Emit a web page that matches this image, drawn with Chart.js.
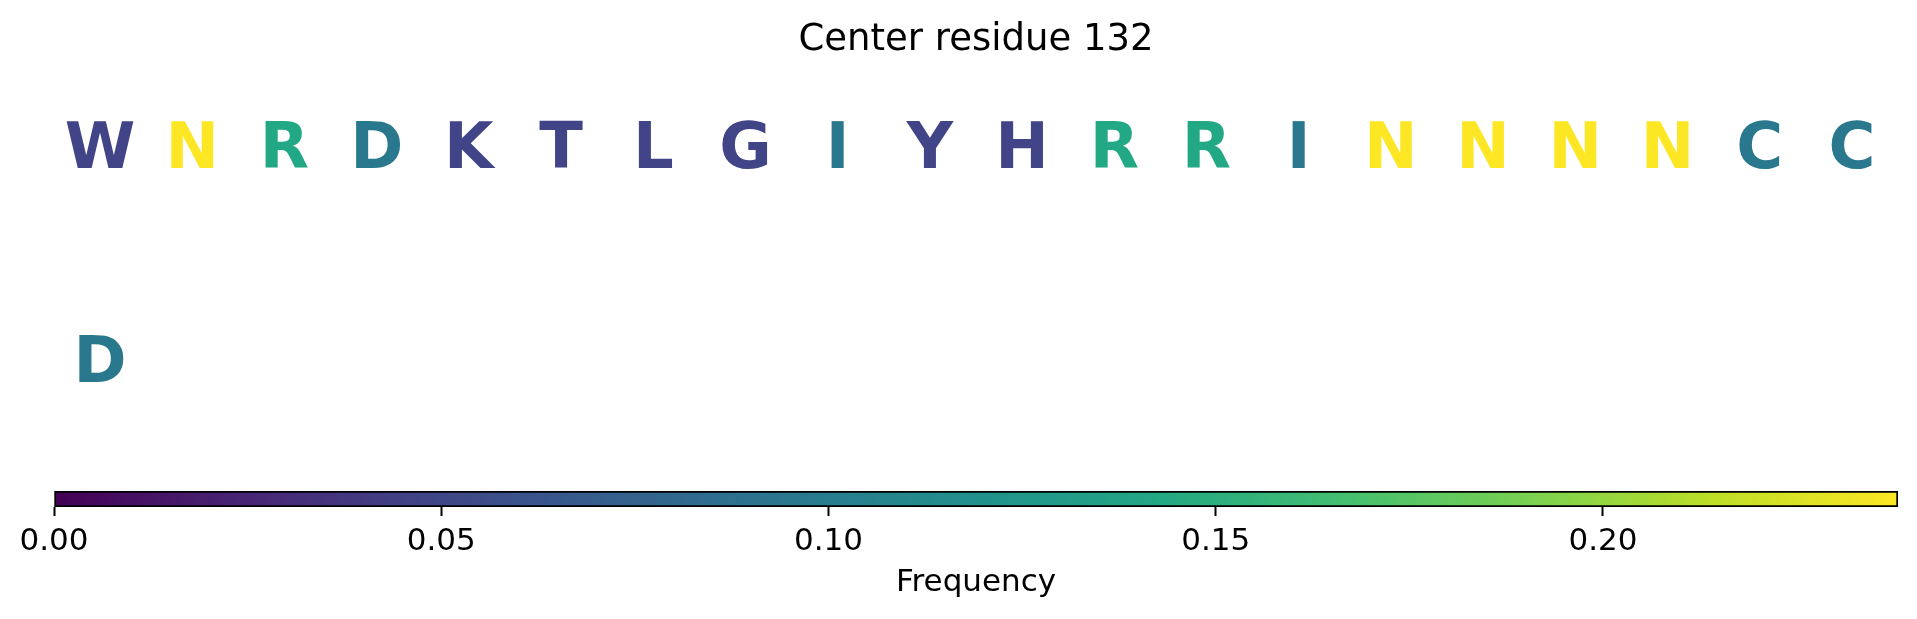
<!DOCTYPE html>
<html><head><meta charset="utf-8">
<script src="https://cdn.jsdelivr.net/npm/chart.js@4.4.1/dist/chart.umd.min.js"></script>
<style>
html,body{margin:0;padding:0;background:#fff;}
#wrap{position:relative;width:1917px;height:619px;overflow:hidden;}
#wrap canvas{position:absolute;left:0;top:0;}
</style></head><body>
<div id="wrap">
<canvas id="main" width="1917" height="619"></canvas>
<canvas id="cbar" width="1917" height="619"></canvas>
</div>
<script>
const titleText = 'Center residue 132';
const residues = ['W','N','R','D','K','T','L','G','I','Y','H','R','R','I','N','N','N','N','C','C','D'];
const frequencies = [0.0476,0.2381,0.1429,0.0952,0.0476,0.0476,0.0476,0.0476,0.0952,0.0476,0.0476,0.1429,0.1429,0.0952,0.2381,0.2381,0.2381,0.2381,0.0952,0.0952,0.0952];
const colorbarMin = 0;
const colorbarMax = 0.2381;
const colorbarTicks = [0, 0.05, 0.10, 0.15, 0.20];
const colorbarLabel = 'Frequency';
const perRow = 20;

const FONT = 'DejaVu Sans';
Chart.defaults.font.family = FONT;

const viridisStops = ['#440154','#482475','#414487','#355f8d','#2a788e','#21918c','#22a884','#44bf70','#7ad151','#bddf26','#fde725'];
function hexToRgb(h){return [parseInt(h.slice(1,3),16),parseInt(h.slice(3,5),16),parseInt(h.slice(5,7),16)];}
function viridis(t){
  t = Math.max(0, Math.min(1, t));
  const n = viridisStops.length - 1;
  const p = t * n, i = Math.min(Math.floor(p), n - 1), f = p - i;
  const a = hexToRgb(viridisStops[i]), b = hexToRgb(viridisStops[i+1]);
  const c = a.map((v,k)=>Math.round(v + (b[k]-v)*f));
  return `rgb(${c[0]},${c[1]},${c[2]})`;
}

const points = residues.map((r, i) => ({x: (i % perRow) + 0.5, y: Math.floor(i / perRow)}));

const letterPlugin = {
  id: 'letters',
  afterDatasetsDraw(chart) {
    const meta = chart.getDatasetMeta(0);
    const ctx = chart.ctx;
    ctx.save();
    ctx.font = `bold 64px "${FONT}"`;
    ctx.textAlign = 'center';
    ctx.textBaseline = 'middle';
    meta.data.forEach((pt, i) => {
      ctx.fillStyle = viridis((frequencies[i] - colorbarMin) / (colorbarMax - colorbarMin));
      ctx.fillText(residues[i], pt.x, pt.y);
    });
    ctx.restore();
  }
};

new Chart(document.getElementById('main'), {
  type: 'scatter',
  data: { datasets: [{ data: points, pointRadius: 0, pointHoverRadius: 0 }] },
  plugins: [letterPlugin],
  options: {
    responsive: false, animation: false, events: [],
    layout: { padding: { left: 54, right: 19, top: 0, bottom: 146.5 } },
    plugins: {
      legend: { display: false }, tooltip: { enabled: false },
      title: { display: true, text: titleText, color: '#000',
        font: { family: FONT, size: 37, weight: 'normal', lineHeight: 1.2 },
        padding: { top: 18.1, bottom: 24.8 } }
    },
    scales: {
      x: { type: 'linear', display: false, min: 0, max: perRow },
      y: { type: 'linear', display: false, min: -0.3, max: 1.5, reverse: true }
    }
  }
});

new Chart(document.getElementById('cbar'), {
  type: 'bar',
  data: { labels: ['cb'], datasets: [{
    data: [[colorbarMin, colorbarMax]],
    barPercentage: 1, categoryPercentage: 1,
    borderColor: '#000', borderWidth: 2, borderSkipped: false,
    backgroundColor: (c) => {
      const chart = c.chart; const area = chart.chartArea;
      if (!area) return '#21918c';
      const xs = chart.scales.x;
      const x0 = xs.getPixelForValue(colorbarMin), x1 = xs.getPixelForValue(colorbarMax);
      const g = chart.ctx.createLinearGradient(x0, 0, x1, 0);
      for (let k = 0; k <= 50; k++) g.addColorStop(k/50, viridis(k/50));
      return g;
    }
  }] },
  options: {
    indexAxis: 'y', responsive: false, animation: false, events: [],
    layout: { padding: { left: 54, right: 19, top: 491, bottom: 0 } },
    plugins: { legend: { display: false }, tooltip: { enabled: false } },
    scales: {
      y: { display: false },
      x: { type: 'linear', min: colorbarMin, max: colorbarMax,
        afterBuildTicks: (s) => { s.ticks = colorbarTicks.map(v => ({ value: v })); },
        afterFit: (s) => { s.height = 112; },
        ticks: { includeBounds: false, color: '#000', padding: 7.8, maxRotation: 0, autoSkip: false,
          font: { family: FONT, size: 31, lineHeight: 1.2 },
          callback: (v) => Number(v).toFixed(2) },
        grid: { drawOnChartArea: false, drawTicks: true, tickLength: 9, tickColor: '#000', tickWidth: 2 },
        border: { display: false },
        title: { display: true, text: colorbarLabel, color: '#000',
          font: { family: FONT, size: 31, lineHeight: 1.2 }, padding: { top: 0, bottom: 17.4 } }
      }
    }
  }
});
</script>
</body></html>
